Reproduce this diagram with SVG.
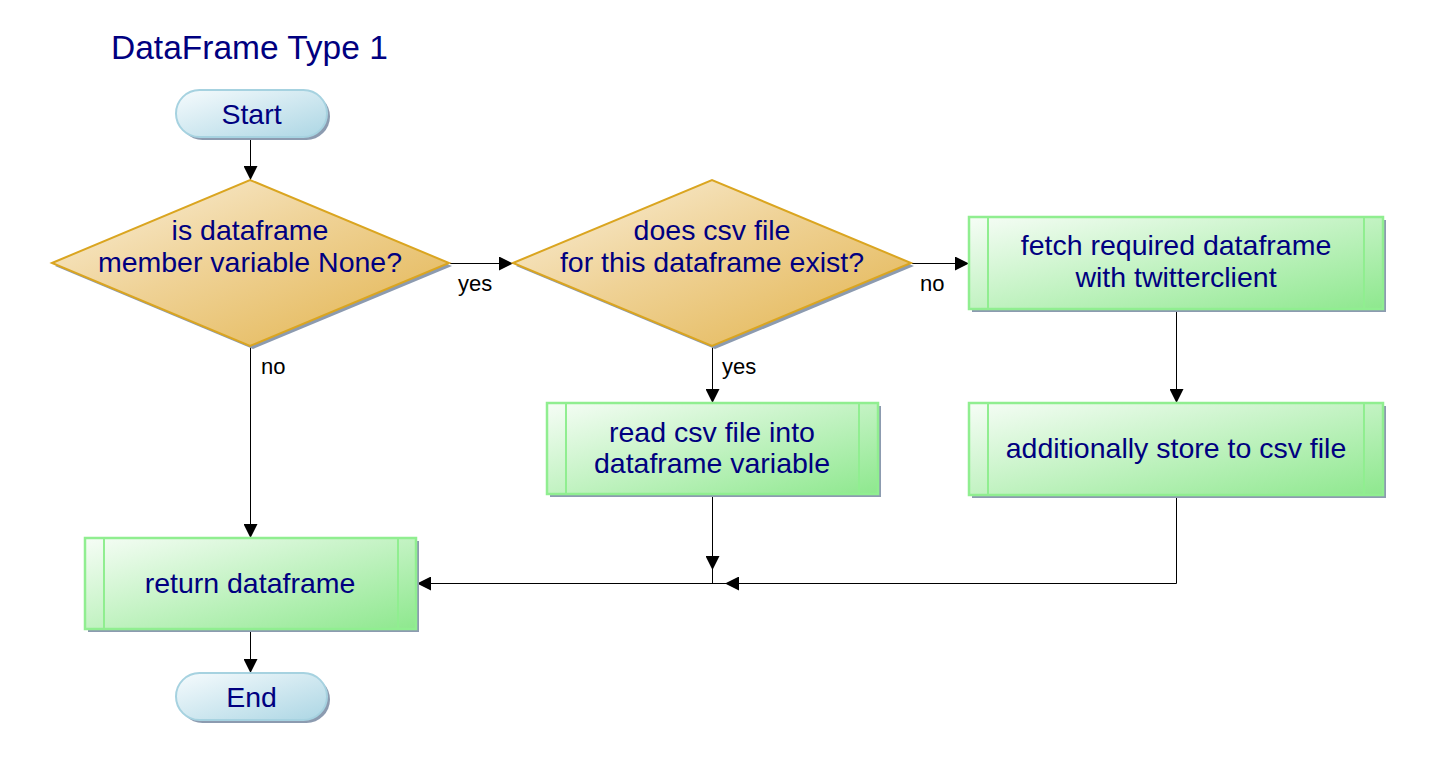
<svg xmlns="http://www.w3.org/2000/svg" width="1435" height="763" viewBox="0 0 1435 763">
<style>
.t{font-family:"Liberation Sans",Arial,sans-serif;font-size:28.5px;fill:#000080;text-anchor:middle}
.title{font-family:"Liberation Sans",Arial,sans-serif;font-size:33.5px;fill:#000080}
.lbl{font-family:"Liberation Sans",Arial,sans-serif;font-size:22px;fill:#000}
.term{fill:url(#gBlue);stroke:#a6d2e0;stroke-width:2}
.dec{fill:url(#gGold);stroke:#daa520;stroke-width:2}
.proc{fill:url(#gGreen);stroke:#90ee90;stroke-width:2.5}
.inner{stroke:#90ee90;stroke-width:2}
.sh{fill:#8c9bb0}
.c{fill:none;stroke:#000;stroke-width:1}
</style>
<defs>
<linearGradient id="gBlue" x1="0" y1="0" x2="1" y2="1">
<stop offset="0" stop-color="#f6fbfd"/><stop offset="1" stop-color="#acd6e4"/>
</linearGradient>
<linearGradient id="gGold" x1="0" y1="0" x2="1" y2="1">
<stop offset="0" stop-color="#faf0dc"/><stop offset="0.45" stop-color="#efd296"/><stop offset="1" stop-color="#e2b34c"/>
</linearGradient>
<linearGradient id="gGreen" x1="0" y1="0" x2="1" y2="1">
<stop offset="0" stop-color="#f6fdf6"/><stop offset="1" stop-color="#8ee88e"/>
</linearGradient>
<marker id="arr" markerUnits="userSpaceOnUse" markerWidth="14" markerHeight="14" refX="14" refY="7" orient="auto">
<path d="M0,0 L14,7 L0,14 z" fill="#000"/>
</marker>
</defs>
<rect width="1435" height="763" fill="#fff"/>
<text class="title" x="111" y="59">DataFrame Type 1</text>

<g id="connectors">
<line class="c" x1="250.5" y1="138" x2="250.5" y2="180" marker-end="url(#arr)"/>
<line class="c" x1="450" y1="263.5" x2="513" y2="263.5" marker-end="url(#arr)"/>
<line class="c" x1="912" y1="263.5" x2="969" y2="263.5" marker-end="url(#arr)"/>
<line class="c" x1="1176.5" y1="310" x2="1176.5" y2="403" marker-end="url(#arr)"/>
<line class="c" x1="250.5" y1="347" x2="250.5" y2="538" marker-end="url(#arr)"/>
<line class="c" x1="712.5" y1="347" x2="712.5" y2="403" marker-end="url(#arr)"/>
<line class="c" x1="712.5" y1="495" x2="712.5" y2="570" marker-end="url(#arr)"/>
<line class="c" x1="712.5" y1="570" x2="712.5" y2="583"/>
<polyline class="c" points="1176.5,496 1176.5,583.5 725,583.5" marker-end="url(#arr)"/>
<line class="c" x1="725" y1="583.5" x2="417" y2="583.5" marker-end="url(#arr)"/>
<line class="c" x1="250.5" y1="630" x2="250.5" y2="673" marker-end="url(#arr)"/>
<text class="lbl" x="458" y="291">yes</text>
<text class="lbl" x="920" y="291">no</text>
<text class="lbl" x="261" y="374">no</text>
<text class="lbl" x="722" y="374">yes</text>
</g>

<g id="start">
<rect class="sh" x="179" y="93" width="151" height="47" rx="23.5"/>
<rect class="term" x="176" y="90" width="151" height="47" rx="23.5"/>
<text class="t" x="251.5" y="124">Start</text>
</g>

<g id="decision1">
<polygon class="sh" points="55,266 253,183 452,266 253,349"/>
<polygon class="dec" points="52,263 250,180 449,263 250,346"/>
<text class="t" x="250" y="240">is dataframe</text>
<text class="t" x="250" y="272">member variable None?</text>
</g>

<g id="decision2">
<polygon class="sh" points="516,266 715,183 914,266 715,349"/>
<polygon class="dec" points="513,263 712,180 911,263 712,346"/>
<text class="t" x="712" y="240">does csv file</text>
<text class="t" x="712" y="272">for this dataframe exist?</text>
</g>

<g id="fetch">
<rect class="sh" x="972" y="220" width="414" height="92"/>
<rect class="proc" x="969" y="217" width="414" height="92"/>
<line class="inner" x1="988" y1="218" x2="988" y2="308"/>
<line class="inner" x1="1364" y1="218" x2="1364" y2="308"/>
<text class="t" x="1176" y="255">fetch required dataframe</text>
<text class="t" x="1176" y="287">with twitterclient</text>
</g>

<g id="store">
<rect class="sh" x="972" y="406" width="414" height="92"/>
<rect class="proc" x="969" y="403" width="414" height="92"/>
<line class="inner" x1="988" y1="404" x2="988" y2="494"/>
<line class="inner" x1="1364" y1="404" x2="1364" y2="494"/>
<text class="t" x="1176" y="458">additionally store to csv file</text>
</g>

<g id="read">
<rect class="sh" x="550" y="406" width="331" height="91"/>
<rect class="proc" x="547" y="403" width="331" height="91"/>
<line class="inner" x1="566" y1="404" x2="566" y2="493"/>
<line class="inner" x1="859" y1="404" x2="859" y2="493"/>
<text class="t" x="712" y="442">read csv file into</text>
<text class="t" x="712" y="473">dataframe variable</text>
</g>

<g id="return">
<rect class="sh" x="88" y="541" width="331" height="91"/>
<rect class="proc" x="85" y="538" width="331" height="91"/>
<line class="inner" x1="104" y1="539" x2="104" y2="628"/>
<line class="inner" x1="398" y1="539" x2="398" y2="628"/>
<text class="t" x="250" y="593">return dataframe</text>
</g>

<g id="end">
<rect class="sh" x="179" y="676" width="151" height="47" rx="23.5"/>
<rect class="term" x="176" y="673" width="151" height="47" rx="23.5"/>
<text class="t" x="251.5" y="707">End</text>
</g>
</svg>
